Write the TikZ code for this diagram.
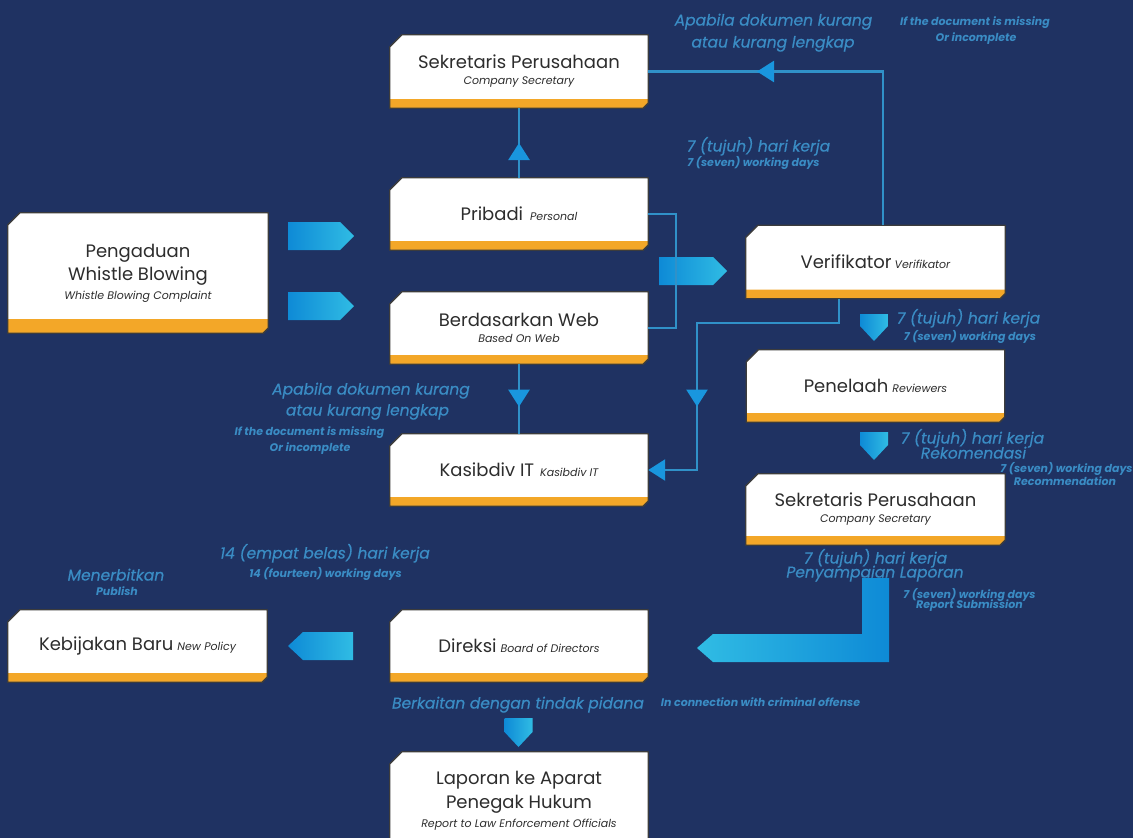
\documentclass[tikz,border=0pt]{standalone}
\usepackage{fontspec}
\setmainfont{Poppins}
\newfontfamily\lblfont[FakeBold=0.5]{Poppins}
\usetikzlibrary{arrows.meta,decorations.markings}
\definecolor{bgc}{RGB}{31,50,98}
\definecolor{lblue}{RGB}{58,140,196}
\definecolor{lineb}{RGB}{48,145,200}
\definecolor{tric}{RGB}{25,150,222}
\definecolor{orng}{RGB}{243,167,40}
\definecolor{edgec}{RGB}{60,60,60}
\definecolor{txt}{RGB}{45,45,45}
\definecolor{cdark}{RGB}{14,138,214}
\definecolor{clight}{RGB}{48,188,228}
\pgfdeclarelayer{back}
\pgfdeclarelayer{bg}
\pgfsetlayers{back,bg,main}
\newcommand\bxmain{\fontsize{18}{21}\selectfont}
\newcommand\bxsub{\fontsize{11}{13}\selectfont\itshape}
\newcommand\drawbox[2][9]{%
 \begin{pgfonlayer}{bg}
 \fill[white] ([xshift=12pt]#2.north west) -- (#2.north east) -- ([yshift=5pt]#2.south east) -- ([xshift=-5pt]#2.south east) -- (#2.south west) -- ([yshift=-12pt]#2.north west) -- cycle;
 \fill[orng] ([yshift=#1pt]#2.south west) -- ([yshift=#1pt]#2.south east) -- ([yshift=5pt]#2.south east) -- ([xshift=-5pt]#2.south east) -- (#2.south west) -- cycle;
 \draw[edgec,line width=1.3pt,line join=round] ([xshift=12pt]#2.north west) -- (#2.north east) -- ([yshift=5pt]#2.south east) -- ([xshift=-5pt]#2.south east) -- (#2.south west) -- ([yshift=-12pt]#2.north west) -- cycle;
 \end{pgfonlayer}}
% chevron pointing east: name, left x, right x, centre y
\newcommand\chevE[4]{\coordinate (#1) at ({(#2+#3)/2},#4);
 \shade[chevshade] (#2,#4-14) -- (#3-14,#4-14) -- (#3,#4) -- (#3-14,#4+14) -- (#2,#4+14) -- cycle;}
% chevron pointing west: name, tip x, right x, centre y
\newcommand\chevW[4]{\coordinate (#1) at ({(#2+#3)/2},#4);
 \shade[chevshade] (#3,#4-14) -- (#2+15,#4-14) -- (#2,#4) -- (#2+15,#4+14) -- (#3,#4+14) -- cycle;}
% pentagon pointing south: name, centre x, top y, bottom y
\newcommand\chevS[4]{\coordinate (#1) at (#2,{(#3+#4)/2});
 \shade[chevshade] (#2-14,#3) -- (#2+14,#3) -- (#2+14,#4-15) -- (#2,#4) -- (#2-14,#4-15) -- cycle;}
\tikzset{
 trihead/.tip={Triangle[width=21pt,length=17pt,color=tric]},
 box/.style={rectangle,minimum width=258pt,minimum height=72pt,inner sep=0pt,text=txt,align=center,font=\bxmain},
 conn/.style={draw=lineb,line width=2.5pt},
 midarr/.style={postaction={decorate},decoration={markings,mark=at position #1 with {\arrow{trihead}}}},
 lblbig/.style={text=lblue,font=\lblfont\fontsize{15.5}{18}\selectfont\itshape,inner sep=0pt,text height=11pt,text depth=0pt},
 lblsm/.style={text=lblue,font=\fontsize{11}{12}\selectfont\bfseries\itshape,inner sep=0pt,text height=7.5pt,text depth=0pt},
 chevshade/.style={left color=cdark,right color=clight},
}
\begin{document}
\begin{tikzpicture}[x=1pt,y=-1pt]
\useasboundingbox (0,0) rectangle (1133,838);
\begin{pgfonlayer}{back}
\fill[bgc] (0,0) rectangle (1133,838);
\end{pgfonlayer}

% boxes
\node[box,minimum height=73pt] (sec1) at (519,71.5) {Sekretaris Perusahaan\\[-5pt]{\bxsub Company Secretary}};
\node[box,minimum width=260pt,minimum height=120pt,font=\fontsize{18}{23}\selectfont] (pen) at (138,273) {Pengaduan\\Whistle Blowing\\[-4pt]{\bxsub Whistle Blowing Complaint}};
\node[box] (prib) at (519,214) {Pribadi\hspace{7pt}{\bxsub Personal}};
\node[box] (web) at (519,328) {Berdasarkan Web\\[-5pt]{\bxsub Based On Web}};
\node[box] (kas) at (519,470) {Kasibdiv IT\hspace{6pt}{\bxsub Kasibdiv IT}};
\node[box,minimum width=259pt,minimum height=73pt] (verif) at (875.5,262) {Verifikator\hspace{3pt}{\bxsub Verifikator}};
\node[box] (rev) at (875.5,386) {Penelaah\hspace{4pt}{\bxsub Reviewers}};
\node[box,minimum width=259pt,minimum height=71pt] (sec2) at (875.5,509.5) {Sekretaris Perusahaan\\[-5pt]{\bxsub Company Secretary}};
\node[box,minimum width=259pt] (keb) at (137.5,646) {Kebijakan Baru\hspace{4pt}{\bxsub New Policy}};
\node[box] (dir) at (519,646) {Direksi\hspace{4pt}{\bxsub Board of Directors}};
\node[box,minimum height=98pt,font=\fontsize{18}{24}\selectfont] (lap) at (519,801) {Laporan ke Aparat\\Penegak Hukum\\[-5pt]{\bxsub Report to Law Enforcement Officials}};
\drawbox{sec1}
\drawbox[14]{pen}
\drawbox{prib}
\drawbox{web}
\drawbox{kas}
\drawbox{verif}
\drawbox{rev}
\drawbox{sec2}
\drawbox{keb}
\drawbox{dir}
\drawbox{lap}

% block arrows
\chevE{ch1}{288}{354}{236}
\chevE{ch2}{288}{354}{306}
\chevE{ch3}{659}{727}{271}
\chevS{dn1}{874}{314}{341}
\chevS{dn2}{874}{432}{460}
\chevW{chk}{288}{353}{646}
\chevS{dn3}{518.5}{718}{747}
\shade[left color=clight,right color=cdark] (862,578) -- (889,578) -- (889,662) -- (713,662) -- (697,648) -- (713,634) -- (862,634) -- cycle;

% connectors
\draw[conn,midarr=0.5] (prib.north) -- (sec1.south);
\draw[conn,midarr=0.72] ([xshift=7.5pt]verif.north) |- (sec1.east);
\draw[conn] (prib.east) -- ++(28,0) |- (web.east);
\draw[conn,midarr=0.61] (web.south) -- (kas.north);
\coordinate (vk) at (697,323);
\draw[conn,midarr=0.69,-{trihead}] ([xshift=-36.5pt]verif.south) |- (vk) |- (kas.east);

% labels
\node[lblbig] (a1) at (773.5,20) {Apabila dokumen kurang};
\node[lblbig] (a2) at (773,42) {atau kurang lengkap};
\node[lblsm] (s1) at (975,22) {If the document is missing};
\node[lblsm] (s2) at (976,38) {Or incomplete};
\node[lblbig] (t1) at (758.5,146) {7 (tujuh) hari kerja};
\node[lblsm] (t1s) at (753.5,163) {7 (seven) working days};
\node[lblbig] (t2) at (968.5,318) {7 (tujuh) hari kerja};
\node[lblsm] (t2s) at (970,337) {7 (seven) working days};
\node[lblbig] (t3) at (972.5,438) {7 (tujuh) hari kerja};
\node[lblbig] (t3b) at (973.5,453) {Rekomendasi};
\node[lblsm] (t3s) at (1066.5,469) {7 (seven) working days};
\node[lblsm] (t3t) at (1065,482) {Recommendation};
\node[lblbig] (t4) at (875.5,558) {7 (tujuh) hari kerja};
\node[lblbig] (t4b) at (875,572) {Penyampaian Laporan};
\node[lblsm] (t4s) at (969.5,595) {7 (seven) working days};
\node[lblsm] (t4t) at (969.5,605) {Report Submission};
\node[lblbig] (b1) at (371,389) {Apabila dokumen kurang};
\node[lblbig] (b2) at (367.5,410) {atau kurang lengkap};
\node[lblsm] (b3) at (309.5,432) {If the document is missing};
\node[lblsm] (b4) at (310,448) {Or incomplete};
\node[lblbig] (f1) at (325,553) {14 (empat belas) hari kerja};
\node[lblsm] (f2) at (325.5,574) {14 (fourteen) working days};
\node[lblbig] (m1) at (116,575) {Menerbitkan};
\node[lblsm] (m2) at (117,592) {Publish};
\node[lblbig] (k1) at (518,703) {Berkaitan dengan tindak pidana};
\node[lblsm] (k2) at (760.5,703) {In connection with criminal offense};
\end{tikzpicture}
\end{document}
